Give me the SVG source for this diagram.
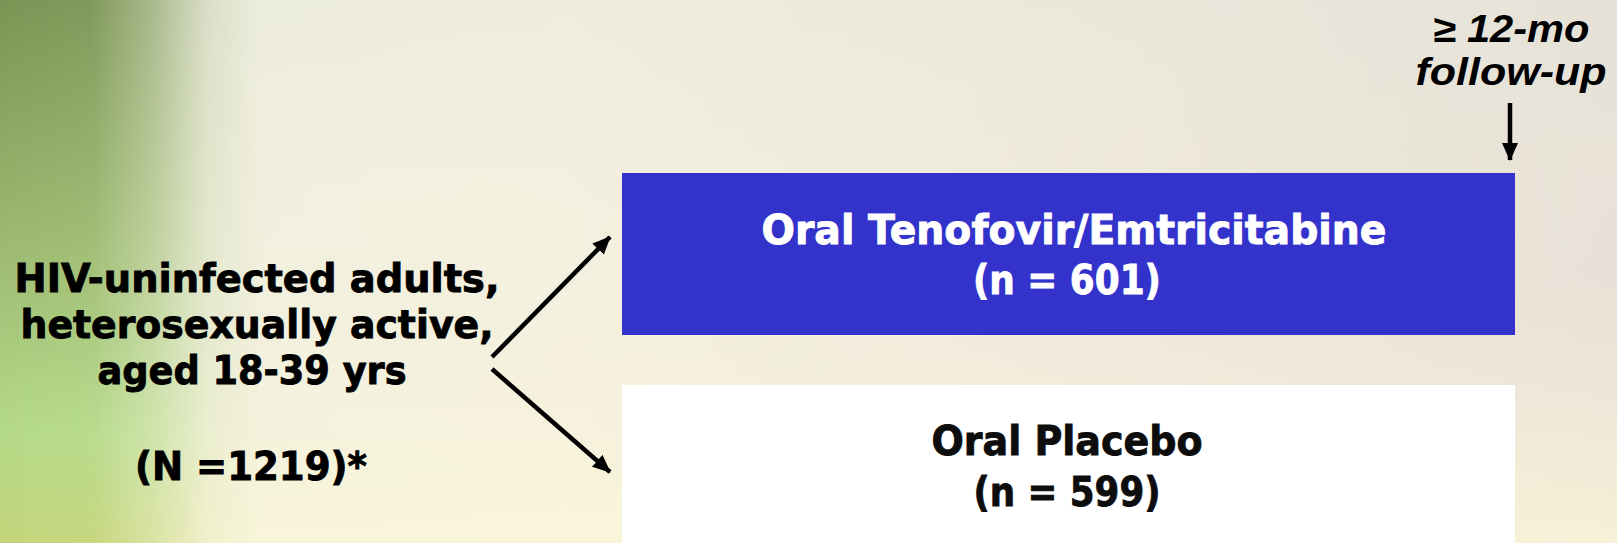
<svg xmlns="http://www.w3.org/2000/svg" width="1617" height="543" viewBox="0 0 1617 543">
  <defs>
    <linearGradient id="bgH" x1="0" y1="0" x2="1" y2="0">
      <stop offset="0" stop-color="#eef0de"/>
      <stop offset="0.35" stop-color="#f4f0df"/>
      <stop offset="0.7" stop-color="#ede7db"/>
      <stop offset="1" stop-color="#e6dfd6"/>
    </linearGradient>
    <linearGradient id="bgV" x1="0" y1="0" x2="0" y2="1">
      <stop offset="0" stop-color="#e4e6da" stop-opacity="0.35"/>
      <stop offset="0.5" stop-color="#f6f0dc" stop-opacity="0.1"/>
      <stop offset="1" stop-color="#fdf8d8" stop-opacity="0.7"/>
    </linearGradient>
    <linearGradient id="greenV" x1="0" y1="0" x2="0" y2="1">
      <stop offset="0" stop-color="#7a9454"/>
      <stop offset="0.45" stop-color="#9cba70"/>
      <stop offset="0.8" stop-color="#b4da88"/>
      <stop offset="1" stop-color="#c4d47a"/>
    </linearGradient>
    <linearGradient id="fadeH" x1="0" y1="0" x2="1" y2="0">
      <stop offset="0" stop-color="#fff" stop-opacity="1"/>
      <stop offset="0.35" stop-color="#fff" stop-opacity="0.95"/>
      <stop offset="0.58" stop-color="#fff" stop-opacity="0.6"/>
      <stop offset="0.8" stop-color="#fff" stop-opacity="0.15"/>
      <stop offset="1" stop-color="#fff" stop-opacity="0"/>
    </linearGradient>
    <mask id="greenMask" maskUnits="userSpaceOnUse" x="0" y="0" width="260" height="543">
      <rect x="0" y="0" width="260" height="543" fill="url(#fadeH)"/>
    </mask>
    <marker id="ah" markerUnits="userSpaceOnUse" markerWidth="18" markerHeight="16" refX="17" refY="8" orient="auto">
      <path d="M0,0 L18,8 L0,16 Z" fill="#000"/>
    </marker>
    <style>
      .lbl { font-family: "DejaVu Sans", Verdana, sans-serif; font-weight: bold; font-size: 39px; fill: #000; stroke: #000; stroke-width: 0.9; text-anchor: middle; }
      .box-w { font-family: "DejaVu Sans", Verdana, sans-serif; font-weight: bold; font-size: 40px; fill: #ffffff; stroke: #ffffff; stroke-width: 0.9; text-anchor: middle; }
      .box-k { font-family: "DejaVu Sans", Verdana, sans-serif; font-weight: bold; font-size: 40px; fill: #0d0d0d; stroke: #0d0d0d; stroke-width: 0.9; text-anchor: middle; }
      .fu { font-family: "Liberation Sans", Arial, sans-serif; font-weight: bold; font-style: italic; font-size: 38px; fill: #000; text-anchor: middle; }
      .conn { stroke: #000; stroke-width: 4.5; fill: none; }
    </style>
  </defs>

  <g id="background">
    <rect x="0" y="0" width="1617" height="543" fill="url(#bgH)"/>
    <rect x="0" y="0" width="1617" height="543" fill="url(#bgV)"/>
    <rect x="0" y="0" width="260" height="543" fill="url(#greenV)" mask="url(#greenMask)"/>
  </g>

  <g id="population">
    <text class="lbl" x="257" y="292" textLength="485" lengthAdjust="spacingAndGlyphs">HIV-uninfected adults,</text>
    <text class="lbl" x="257" y="338" textLength="473" lengthAdjust="spacingAndGlyphs">heterosexually active,</text>
    <text class="lbl" x="252" y="384" textLength="309" lengthAdjust="spacingAndGlyphs">aged 18-39 yrs</text>
    <text class="lbl" x="251" y="480" textLength="232" lengthAdjust="spacingAndGlyphs">(N =1219)*</text>
  </g>

  <g id="arm-tdf">
    <rect x="622" y="173" width="893" height="162" fill="#3333cc"/>
    <text class="box-w" x="1074" y="244" textLength="625" lengthAdjust="spacingAndGlyphs">Oral Tenofovir/Emtricitabine</text>
    <text class="box-w" x="1067" y="294" textLength="188" lengthAdjust="spacingAndGlyphs">(n = 601)</text>
  </g>

  <g id="arm-placebo">
    <rect x="622" y="385" width="893" height="158" fill="#ffffff"/>
    <text class="box-k" x="1067" y="455" textLength="271" lengthAdjust="spacingAndGlyphs">Oral Placebo</text>
    <text class="box-k" x="1067" y="506" textLength="187" lengthAdjust="spacingAndGlyphs">(n = 599)</text>
  </g>

  <g id="followup">
    <text class="fu" x="1511" y="42" textLength="157" lengthAdjust="spacingAndGlyphs">≥ 12-mo</text>
    <text class="fu" x="1511" y="85" textLength="191" lengthAdjust="spacingAndGlyphs">follow-up</text>
  </g>

  <g id="connectors">
    <line class="conn" x1="492" y1="357" x2="610" y2="237" marker-end="url(#ah)"/>
    <line class="conn" x1="492" y1="369" x2="610" y2="472" marker-end="url(#ah)"/>
    <line class="conn" x1="1510" y1="103" x2="1510" y2="160" stroke-width="4" marker-end="url(#ah)"/>
  </g>
</svg>
